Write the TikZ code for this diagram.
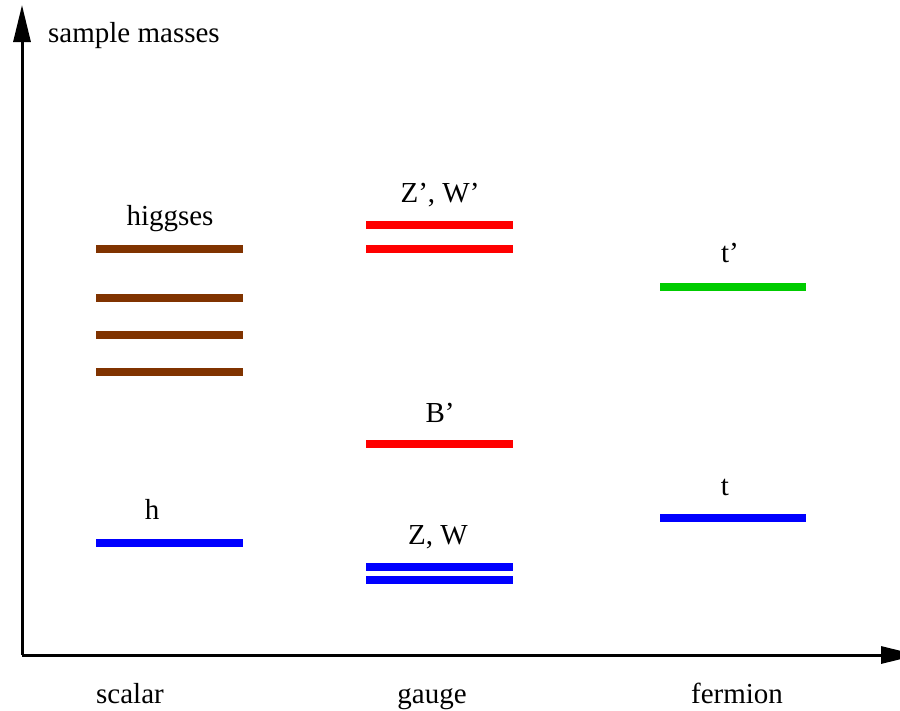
\documentclass[tikz,border=0pt]{standalone}
\usepackage{fontspec}
\setmainfont{Liberation Serif}
\usetikzlibrary{arrows.meta}
\definecolor{hbrown}{RGB}{128,51,0}
\definecolor{lred}{RGB}{255,0,0}
\definecolor{lblue}{RGB}{0,0,255}
\definecolor{lgreen}{RGB}{0,204,0}
\begin{document}
\begin{tikzpicture}[x=1pt,y=-1pt,
  axis/.style={line width=3pt,-{Triangle[length=37pt,width=17pt]}},
  level/.style={line width=7.5pt},
  lbl/.style={font=\fontsize{29}{33}\selectfont,inner sep=0pt,anchor=base}]
\useasboundingbox (0,0) rectangle (900,710);
\coordinate (o) at (22,655);
\coordinate (ytip) at (22,5);
\coordinate (xtip) at (918,655);
\draw[axis] (o) -- (ytip);
\draw[axis] (o) -- (xtip);
\node[lbl,anchor=base west] (ylab) at (48,42) {sample masses};
% scalar
\coordinate (s1a) at (96,249); \coordinate (s1b) at (243,249);
\coordinate (s2a) at (96,298); \coordinate (s2b) at (243,298);
\coordinate (s3a) at (96,335); \coordinate (s3b) at (243,335);
\coordinate (s4a) at (96,372); \coordinate (s4b) at (243,372);
\coordinate (s5a) at (96,543); \coordinate (s5b) at (243,543);
\draw[level,hbrown] (s1a) -- (s1b);
\draw[level,hbrown] (s2a) -- (s2b);
\draw[level,hbrown] (s3a) -- (s3b);
\draw[level,hbrown] (s4a) -- (s4b);
\draw[level,lblue] (s5a) -- (s5b);
\node[lbl] (higgses) at (170,225) {higgses};
\node[lbl] (h) at (152,519) {h};
% gauge
\coordinate (g1a) at (366,225); \coordinate (g1b) at (513,225);
\coordinate (g2a) at (366,249); \coordinate (g2b) at (513,249);
\coordinate (g3a) at (366,444); \coordinate (g3b) at (513,444);
\coordinate (g4a) at (366,567); \coordinate (g4b) at (513,567);
\coordinate (g5a) at (366,580); \coordinate (g5b) at (513,580);
\draw[level,lred] (g1a) -- (g1b);
\draw[level,lred] (g2a) -- (g2b);
\draw[level,lred] (g3a) -- (g3b);
\draw[level,lblue] (g4a) -- (g4b);
\draw[level,lblue] (g5a) -- (g5b);
\node[lbl] (zpwp) at (440,202) {Z’, W’};
\node[lbl] (bp) at (440,422) {B’};
\node[lbl] (zw) at (438,544) {Z, W};
% fermion
\coordinate (f1a) at (660,287); \coordinate (f1b) at (806,287);
\coordinate (f2a) at (660,518); \coordinate (f2b) at (806,518);
\draw[level,lgreen] (f1a) -- (f1b);
\draw[level,lblue] (f2a) -- (f2b);
\node[lbl] (tp) at (730,262) {t’};
\node[lbl] (t) at (725,495) {t};
% categories
\node[lbl] (scalar) at (130,703) {scalar};
\node[lbl] (gauge) at (432,703) {gauge};
\node[lbl] (fermion) at (737,703) {fermion};
\end{tikzpicture}
\end{document}
